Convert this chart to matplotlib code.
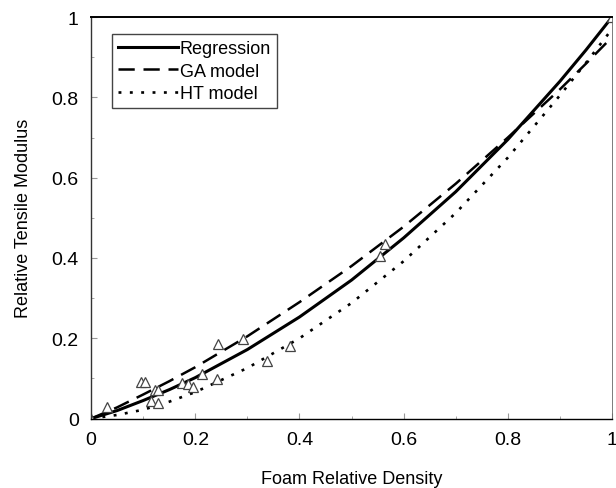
import numpy as np
import matplotlib.pyplot as plt
from matplotlib.ticker import MultipleLocator

plt.rcParams['font.family'] = ['Liberation Sans', 'DejaVu Sans']

# measured points (triangles)
dens = [0, 0.031, 0.095, 0.103, 0.122, 0.129, 0.115, 0.129, 0.175, 0.185,
        0.195, 0.212, 0.242, 0.244, 0.292, 0.337, 0.381, 0.555, 0.564, 1.0]
modulus = [0, 0.028, 0.092, 0.092, 0.072, 0.072, 0.044, 0.038, 0.088, 0.086,
           0.078, 0.112, 0.098, 0.186, 0.198, 0.144, 0.18, 0.405, 0.435, 1.0]

# curves
curve_x = [0, 0.05, 0.1, 0.15, 0.2, 0.3, 0.4, 0.5, 0.6, 0.7, 0.8, 0.9, 0.95, 1.0]
reg_y = [0, 0.02, 0.045, 0.072, 0.102, 0.172, 0.253, 0.345, 0.45, 0.565,
         0.695, 0.84, 0.918, 1.0]
ga_y = [0, 0.028, 0.06, 0.093, 0.128, 0.205, 0.29, 0.38, 0.478, 0.585,
        0.70, 0.82, 0.884, 0.95]
ht_y = [0, 0.009, 0.022, 0.042, 0.066, 0.126, 0.2, 0.288, 0.392, 0.512,
        0.65, 0.805, 0.886, 0.97]

fig = plt.figure(figsize=(6.16, 4.89), dpi=100)
ax = fig.add_axes([0.148, 0.142, 0.8455, 0.821])

ax.plot(curve_x, reg_y, color='black', lw=2.2, ls='-', label='Regression')
ax.plot(curve_x, ga_y, color='black', lw=1.8, ls=(0, (6.5, 3.5)), label='GA model')
ax.plot(curve_x, ht_y, color='black', lw=1.9, ls=(0, (1.1, 3.2)), label='HT model')
ax.plot(dens, modulus, ls='none', marker='^', ms=7, mfc='white',
        mec='#444444', mew=0.9)

ax.set_xlim(0, 1)
ax.set_ylim(0, 1)
ax.xaxis.set_major_locator(MultipleLocator(0.2))
ax.yaxis.set_major_locator(MultipleLocator(0.2))
ax.xaxis.set_minor_locator(MultipleLocator(0.1))
ax.yaxis.set_minor_locator(MultipleLocator(0.1))
ax.xaxis.set_major_formatter(plt.FuncFormatter(lambda v, p: f'{v:g}'))
ax.yaxis.set_major_formatter(plt.FuncFormatter(lambda v, p: f'{v:g}'))
ax.tick_params(which='both', direction='in', color='#999999', labelsize=14)
ax.tick_params(which='major', length=4, width=0.8, pad=9)
ax.tick_params(which='minor', length=2, width=0.6)

ax.spines['top'].set_linewidth(1.4)
ax.spines['left'].set_linewidth(1.0)
ax.spines['left'].set_color('#333333')
ax.spines['bottom'].set_linewidth(1.0)
ax.spines['right'].set_linewidth(0.6)
ax.spines['right'].set_color('#666666')

ax.set_xlabel('Foam Relative Density', fontsize=13, labelpad=16)
ax.set_ylabel('Relative Tensile Modulus', fontsize=13, labelpad=14)

leg = ax.legend(loc='upper left', bbox_to_anchor=(0.04, 0.958), fontsize=13,
                handlelength=3.3, handletextpad=0.1, borderpad=0.35,
                labelspacing=0.3, borderaxespad=0, fancybox=False,
                framealpha=1)
leg.get_frame().set_edgecolor('#444444')
leg.get_frame().set_linewidth(1.0)

fig.savefig('out.png', dpi=100)
